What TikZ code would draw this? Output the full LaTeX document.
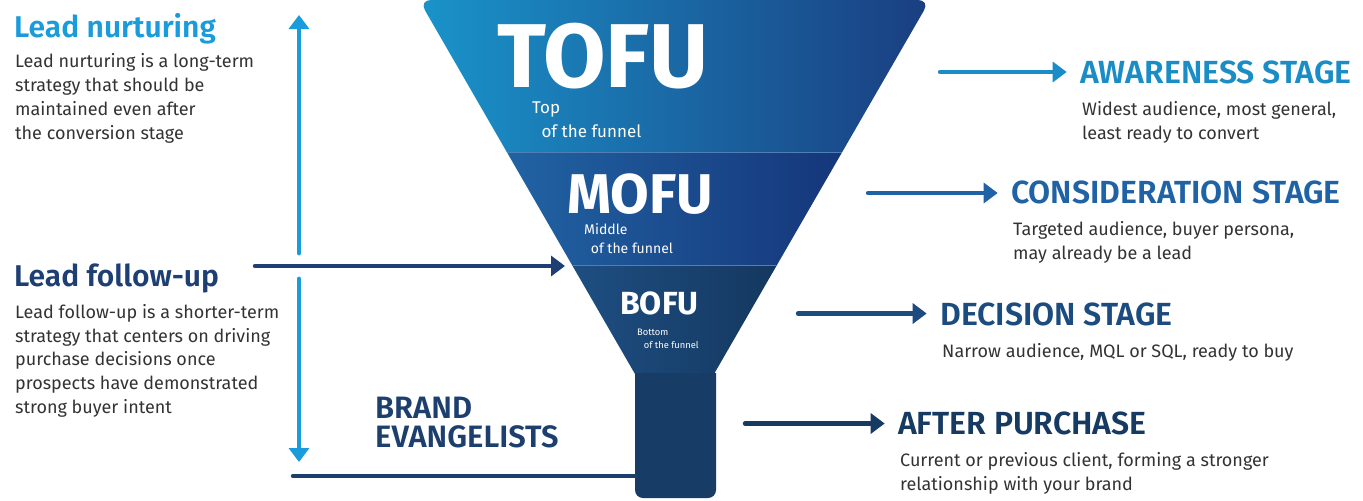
\documentclass[tikz,border=0pt]{standalone}
\usepackage{fontspec}
\setmainfont{Fira Sans}[BoldFont={Fira Sans SemiBold}]
\newfontfamily\funnelfont{Fira Sans Bold}
\usetikzlibrary{arrows.meta}
\newcommand\U{0.75pt}

\definecolor{nurture}{HTML}{1A9BDB}
\definecolor{fupcol}{HTML}{1E3F73}
\definecolor{evcol}{HTML}{1C3F6E}
\definecolor{awcol}{HTML}{1A8DC6}
\definecolor{cocol}{HTML}{1F62A5}
\definecolor{decol}{HTML}{1C4C7F}
\definecolor{apcol}{HTML}{173A63}
\definecolor{bodytext}{HTML}{333333}
\definecolor{tofuL}{HTML}{1A93CA}
\definecolor{tofuR}{HTML}{1A3E80}
\definecolor{mofuL}{HTML}{2163A3}
\definecolor{mofuR}{HTML}{15367A}
\definecolor{bofuL}{HTML}{1E4E82}
\definecolor{bofuR}{HTML}{14385F}
\definecolor{stem}{HTML}{173D66}
\definecolor{divider}{HTML}{4F7FB5}

\begin{document}
\begin{tikzpicture}[x=\U,y=-\U,>={Triangle[length=10.5pt,width=15pt]},
                    line width=3.3pt,line cap=round]

  \tikzstyle{every node}=[inner sep=0pt,anchor=base west,align=left]
  \tikzstyle{body}=[font=\fontsize{13.5}{17.8}\selectfont,text=bodytext]
  \tikzstyle{lefthead}=[font=\bfseries\fontsize{22.5}{21.75}\selectfont]
  \tikzstyle{stagehead}=[font=\bfseries\fontsize{24}{28}\selectfont]
  \tikzstyle{stagearrow}=[->,shorten >=8.5pt]
  \tikzstyle{funnelsub}=[text=white]

  \useasboundingbox[fill=white] (0,0) rectangle (1363,500);

  % funnel
  \begin{scope}
    \clip[rounded corners=9pt] (650,400) -- (419,0) -- (930,0) -- (699,400) -- cycle;
    \shade[left color=tofuL,right color=tofuR] (419,0) rectangle (930,152);
    \shade[left color=mofuL,right color=mofuR] (507,152) rectangle (842,265);
    \shade[left color=bofuL,right color=bofuR] (572,265) rectangle (778,374);
    \draw[line width=0.6pt,divider] (419,152) -- (930,152) (419,265) -- (930,265);
  \end{scope}
  \fill[stem,rounded corners=6pt] (635,373) -- (635,498) -- (716,498) -- (716,373);

  % base anchor of a multi-line node = baseline of its last line
  \node[font=\funnelfont\fontsize{68}{68}\selectfont,text=white] (tofu) at (495,87) {TOFU};
  \node[funnelsub,font=\fontsize{12.75}{18}\selectfont] (tofusub) at (530,137) {Top\\\hspace*{7pt}of the funnel};
  \node[font=\funnelfont\fontsize{42}{42}\selectfont,text=white] (mofu) at (565,213) {MOFU};
  \node[funnelsub,font=\fontsize{10.5}{14.25}\selectfont] (mofusub) at (582,253) {Middle\\\hspace*{5pt}of the funnel};
  \node[font=\funnelfont\fontsize{24}{24}\selectfont,text=white] (bofu) at (618,314) {BOFU};
  \node[funnelsub,font=\fontsize{7}{9.75}\selectfont] (bofusub) at (635,348) {Bottom\\\hspace*{5pt}of the funnel};

  % left side
  \node[lefthead,text=nurture] (nurhead) at (12,37) {Lead nurturing};
  \node[body] (nurbody) at (13,139) {Lead nurturing is a long-term\\strategy that should be\\maintained even after\\the conversion stage};
  \node[lefthead,text=fupcol] (fuphead) at (12,286) {Lead follow-up};
  \node[body] (fupbody) at (13,413.3) {Lead follow-up is a shorter-term\\strategy that centers on driving\\purchase decisions once\\prospects have demonstrated\\strong buyer intent};
  \node[lefthead,text=evcol,font=\bfseries\fontsize{23.2}{21.75}\selectfont] (evhead) at (373,447) {BRAND\\EVANGELISTS};

  \coordinate (nurtop) at (299,15);  \coordinate (nurbot) at (299,253);
  \coordinate (fuptop) at (299,279); \coordinate (fupbot) at (299,462);
  \coordinate (fuptail) at (255,266); \coordinate (fuptip) at (565,266);
  \coordinate (evtail) at (293,476); \coordinate (evstem) at (636,476);

  \draw[->,nurture,line width=3.6pt] (nurbot) -- (nurtop);
  \draw[->,nurture,line width=3.6pt] (fuptop) -- (fupbot);
  \draw[->,fupcol] (fuptail) -- (fuptip);
  \draw[evcol] (evtail) -- (evstem);

  % right side
  \node[stagehead,text=awcol] (awhead) at (1078,83.3) {AWARENESS STAGE};
  \node[body] (awbody) at (1080,139) {Widest audience, most general,\\least ready to convert};
  \node[stagehead,text=cocol] (cohead) at (1009,203.3) {CONSIDERATION STAGE};
  \node[body] (cobody) at (1011,259) {Targeted audience, buyer persona,\\may already be a lead};
  \node[stagehead,text=decol] (dehead) at (938,325) {DECISION STAGE};
  \node[body] (debody) at (940,357) {Narrow audience, MQL or SQL, ready to buy};
  \node[stagehead,text=apcol] (aphead) at (896,434) {AFTER PURCHASE};
  \node[body] (apbody) at (898,490) {Current or previous client, forming a stronger\\relationship with your brand};

  \coordinate (awtail) at (940,72);
  \coordinate (cotail) at (868,193);
  \coordinate (detail) at (798,313.5);
  \coordinate (aptail) at (745,423.5);

  \draw[stagearrow,awcol] (awtail) -- (awtail -| awhead.west);
  \draw[stagearrow,cocol] (cotail) -- (cotail -| cohead.west);
  \draw[stagearrow,decol] (detail) -- (detail -| dehead.west);
  \draw[stagearrow,apcol] (aptail) -- (aptail -| aphead.west);

\end{tikzpicture}
\end{document}
